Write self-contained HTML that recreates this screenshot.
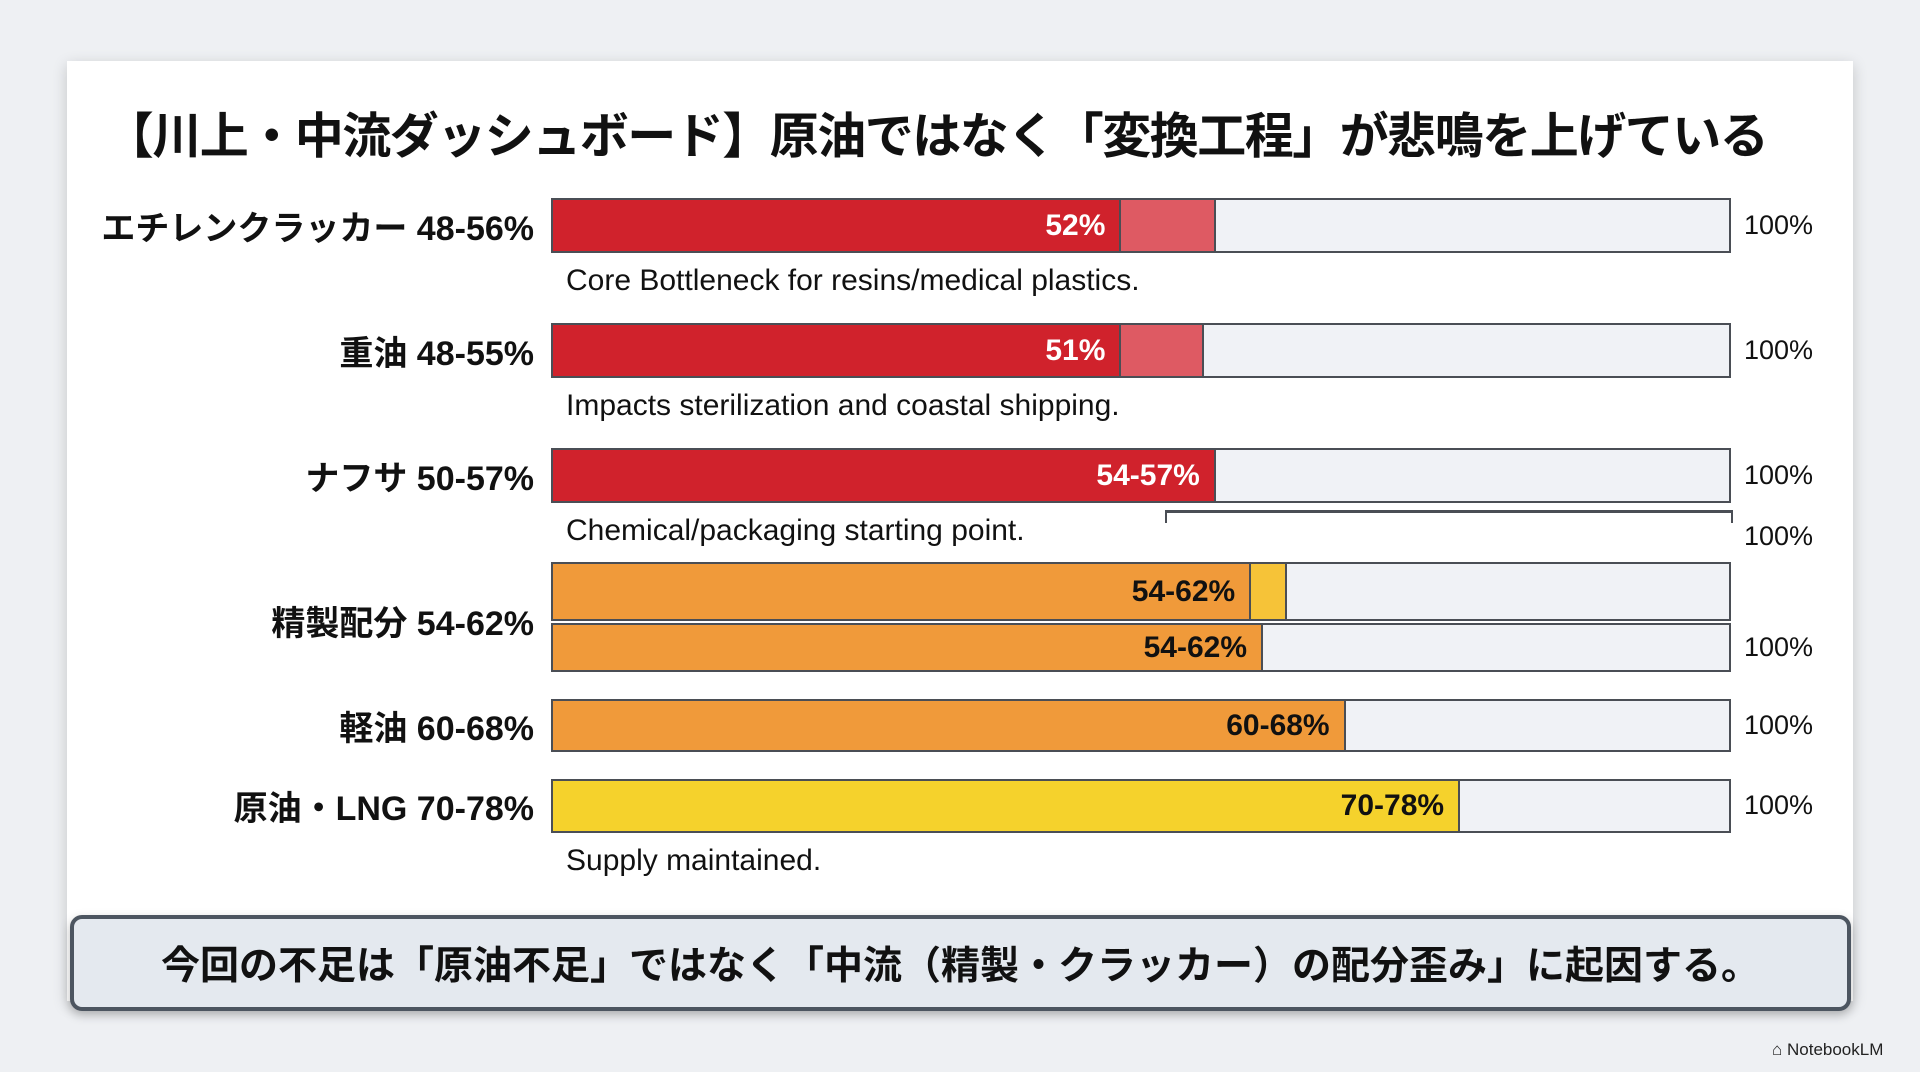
<!DOCTYPE html>
<html><head><meta charset="utf-8"><style>
html,body{margin:0;padding:0;width:1920px;height:1072px;overflow:hidden;background:#eef0f3;font-family:"Liberation Sans","Noto Sans CJK JP",sans-serif;}
#card{position:absolute;left:67px;top:61px;width:1786px;height:940px;background:#fff;box-shadow:0 4px 14px rgba(0,0,0,0.18);}
#title{position:absolute;left:43px;width:1786px;top:97px;text-align:center;font-size:49px;font-weight:bold;color:#111;white-space:nowrap;letter-spacing:-1.5px;}
.lbl{position:absolute;right:1386px;font-size:34px;font-weight:bold;color:#111;white-space:nowrap;text-align:right;}
.cap{position:absolute;left:566px;font-size:30px;color:#111;white-space:nowrap;}
.pct{position:absolute;left:1744px;font-size:27px;color:#111;}
.bar{position:absolute;left:551px;width:1180px;background:#f0f2f6;border:2.5px solid #4a4e55;box-sizing:border-box;overflow:hidden;}
.seg{position:absolute;top:0;bottom:0;left:0;}
.val{position:absolute;top:0;bottom:0;display:flex;align-items:center;font-size:30px;font-weight:bold;}
#foot{position:absolute;left:70px;top:915px;width:1781px;height:96px;box-sizing:border-box;border:4px solid #4c5560;border-radius:12px;background:#e4e9ef;display:flex;align-items:center;justify-content:center;font-size:39px;font-weight:bold;color:#111;box-shadow:0 4px 10px rgba(0,0,0,0.25);}
#logo{position:absolute;left:1772px;top:1040px;font-size:17px;color:#222;}
</style></head><body>
<div id="card"></div>
<div id="title">【川上・中流ダッシュボード】原油ではなく「変換工程」が悲鳴を上げている</div>
<div id="chart"></div>
<div id="foot">今回の不足は「原油不足」ではなく「中流（精製・クラッカー）の配分歪み」に起因する。</div>
<div id="logo">⌂ NotebookLM</div>
<script>
const categories=["エチレンクラッカー 48-56%","重油 48-55%","ナフサ 50-57%","精製配分 54-62%","","軽油 60-68%","原油・LNG 70-78%"];
const baseValues=[48,48,56,59,60,67,76.7];
const extraValues=[8,7,0,3,0,0,0];
const valueLabels=["52%","51%","54-57%","54-62%","54-62%","60-68%","70-78%"];
const captions=["Core Bottleneck for resins/medical plastics.","Impacts sterilization and coastal shipping.","Chemical/packaging starting point.","","","","Supply maintained."];
const showPct=[true,true,true,false,true,true,true];
const rowTops=[198,323,448,562,623,699,779];
const rowHeights=[55,55,55,59,49,53,54];
const baseColors=["#d0222c","#d0222c","#d0222c","#f09a3a","#f09a3a","#f09a3a","#f5d22c"];
const extraColors=["#de5a63","#de5a63","#de5a63","#f6c338","#f6c338","#f6c338","#f6c338"];
const textColors=["#fff","#fff","#fff","#111","#111","#111","#111"];
const W=1180;
function x(v){return v/100*W;}
const root=document.getElementById('chart');
categories.forEach((c,i)=>{
  const top=rowTops[i],h=rowHeights[i];
  const bar=document.createElement('div');bar.className='bar';
  
  
  bar.style.top=top+'px';bar.style.height=h+'px';
  if(extraValues[i]>0){
    const e=document.createElement('div');e.className='seg';
    
    
    e.style.width=x(baseValues[i]+extraValues[i])+'px';e.style.background=extraColors[i];
    e.style.borderRight='2px solid #4a4e55';
    bar.appendChild(e);
  }
  const s=document.createElement('div');s.className='seg';
  
  
  s.style.width=x(baseValues[i])+'px';s.style.background=baseColors[i];
  s.style.borderRight='2px solid #4a4e55';
  bar.appendChild(s);
  const t=document.createElement('div');t.className='val';
  
  
  t.textContent=valueLabels[i];t.style.color=textColors[i];
  t.style.right=(W-x(baseValues[i])+10)+'px';
  bar.appendChild(t);
  root.appendChild(bar);
  if(c){const l=document.createElement('div');l.className='lbl';
    
    
    l.textContent=c;const lt=(i==3?top+h:top+h/2)-25;l.style.top=lt+'px';root.appendChild(l);}
  if(captions[i]){const cp=document.createElement('div');cp.className='cap';
    
    
    cp.textContent=captions[i];cp.style.top=(top+h+11)+'px';root.appendChild(cp);}
  if(showPct[i]){const p=document.createElement('div');p.className='pct';
    
    
    p.textContent='100%';p.style.top=(top+h/2-16)+'px';root.appendChild(p);}
});
const br=document.createElement('div');


br.style.cssText='position:absolute;left:'+(551+x(52))+'px;top:510px;width:'+(W-x(52)-2)+'px;height:10px;border:2px solid #4a4e55;border-bottom:none;border-top-width:3px;';
root.appendChild(br);
const p2=document.createElement('div');p2.className='pct';


p2.textContent='100%';p2.style.top='521px';root.appendChild(p2);
</script>
</body></html>
